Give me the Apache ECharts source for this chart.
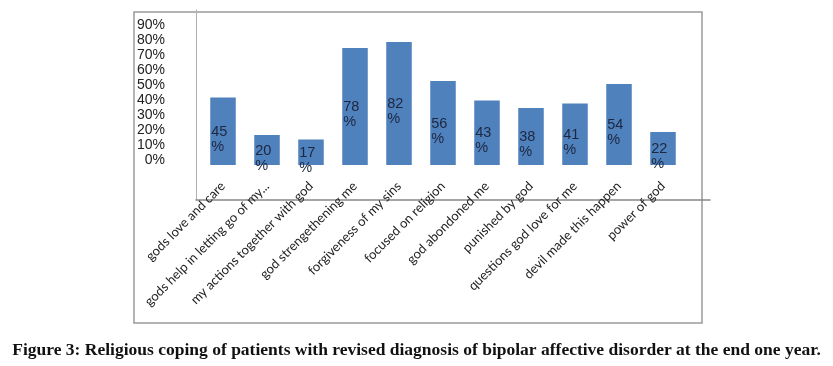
<!DOCTYPE html>
<html>
<head>
<meta charset="utf-8">
<script src="https://cdn.jsdelivr.net/npm/echarts@6/dist/echarts.min.js"></script>
<style>
  html, body { margin: 0; padding: 0; background: #fff; }
  #main { width: 833px; height: 366px; }
</style>
</head>
<body>
<div id="main"></div>
<script>
var categories = [
  'gods love and care',
  'gods help in letting go of my...',
  'my actions together with god',
  'god strengethening me',
  'forgiveness of my sins',
  'focused on religion',
  'god abondoned me',
  'punished by god',
  'questions god love for me',
  'devil made this happen',
  'power of god'
];
var percents = [45, 20, 17, 78, 82, 56, 43, 38, 41, 54, 22];
var yTicks = [0, 10, 20, 30, 40, 50, 60, 70, 80, 90];
var caption = 'Figure 3: Religious coping of patients with revised diagnosis of bipolar affective disorder at the end one year.';

var myChart = echarts.init(document.getElementById('main'));

var option = {
  backgroundColor: '#ffffff',
  animation: false,
  title: {
    text: caption,
    left: 'center',
    top: 336,
    textStyle: {
      fontFamily: 'Liberation Serif',
      fontWeight: 'bold',
      fontSize: 17.5,
      color: '#111'
    }
  },
  grid: [
    // bars
    { left: 201, right: 148, top: 30, bottom: 201 },
    // inner L frame
    { left: 196, right: 123, top: 10, bottom: 166 },
    // outer box
    { left: 134, right: 131, top: 12, bottom: 43, show: true, borderColor: '#9a9a9a', borderWidth: 1.5, backgroundColor: 'transparent' }
  ],
  xAxis: [
    {
      type: 'category',
      data: categories,
      gridIndex: 0,
      axisLine: { show: false },
      axisTick: { show: false },
      axisLabel: {
        interval: 0,
        rotate: 45,
        margin: 19,
        fontFamily: 'Lato',
        fontSize: 13,
        color: '#222'
      }
    },
    {
      type: 'value', gridIndex: 1, min: 0, max: 1,
      axisLine: { show: true, lineStyle: { color: '#888', width: 1.5 } },
      axisTick: { show: false }, axisLabel: { show: false }, splitLine: { show: false }
    },
    {
      type: 'value', gridIndex: 2, show: false
    }
  ],
  yAxis: [
    {
      type: 'value',
      gridIndex: 0,
      min: 0,
      max: 90,
      interval: 10,
      axisLine: { show: false },
      axisTick: { show: false },
      splitLine: { show: false },
      axisLabel: {
        margin: 36,
        showMinLabel: true,
        showMaxLabel: true,
        hideOverlap: false,
        verticalAlign: 'bottom',
        lineHeight: 10,
        fontFamily: 'Liberation Sans',
        fontSize: 14,
        color: '#222',
        formatter: function (v) { return yTicks.indexOf(v) >= 0 ? v + '%' : ''; }
      }
    },
    {
      type: 'value', gridIndex: 1, min: 0, max: 1,
      axisLine: { show: true, lineStyle: { color: '#b0b0b0', width: 1 } },
      axisTick: { show: false }, axisLabel: { show: false }, splitLine: { show: false }
    },
    {
      type: 'value', gridIndex: 2, show: false
    }
  ],
  series: [
    {
      type: 'bar',
      xAxisIndex: 0,
      yAxisIndex: 0,
      data: percents,
      barWidth: '58%',
      itemStyle: { color: '#4F81BD' },
      label: {
        show: true,
        position: 'insideLeft',
        distance: 1,
        offset: [0, 8],
        formatter: '{c}\n%',
        fontFamily: 'Liberation Sans',
        fontSize: 14.5,
        lineHeight: 15,
        color: '#1d2740'
      }
    }
  ]
};

if (option && typeof option === 'object') {
  myChart.setOption(option);
}
</script>
</body>
</html>
